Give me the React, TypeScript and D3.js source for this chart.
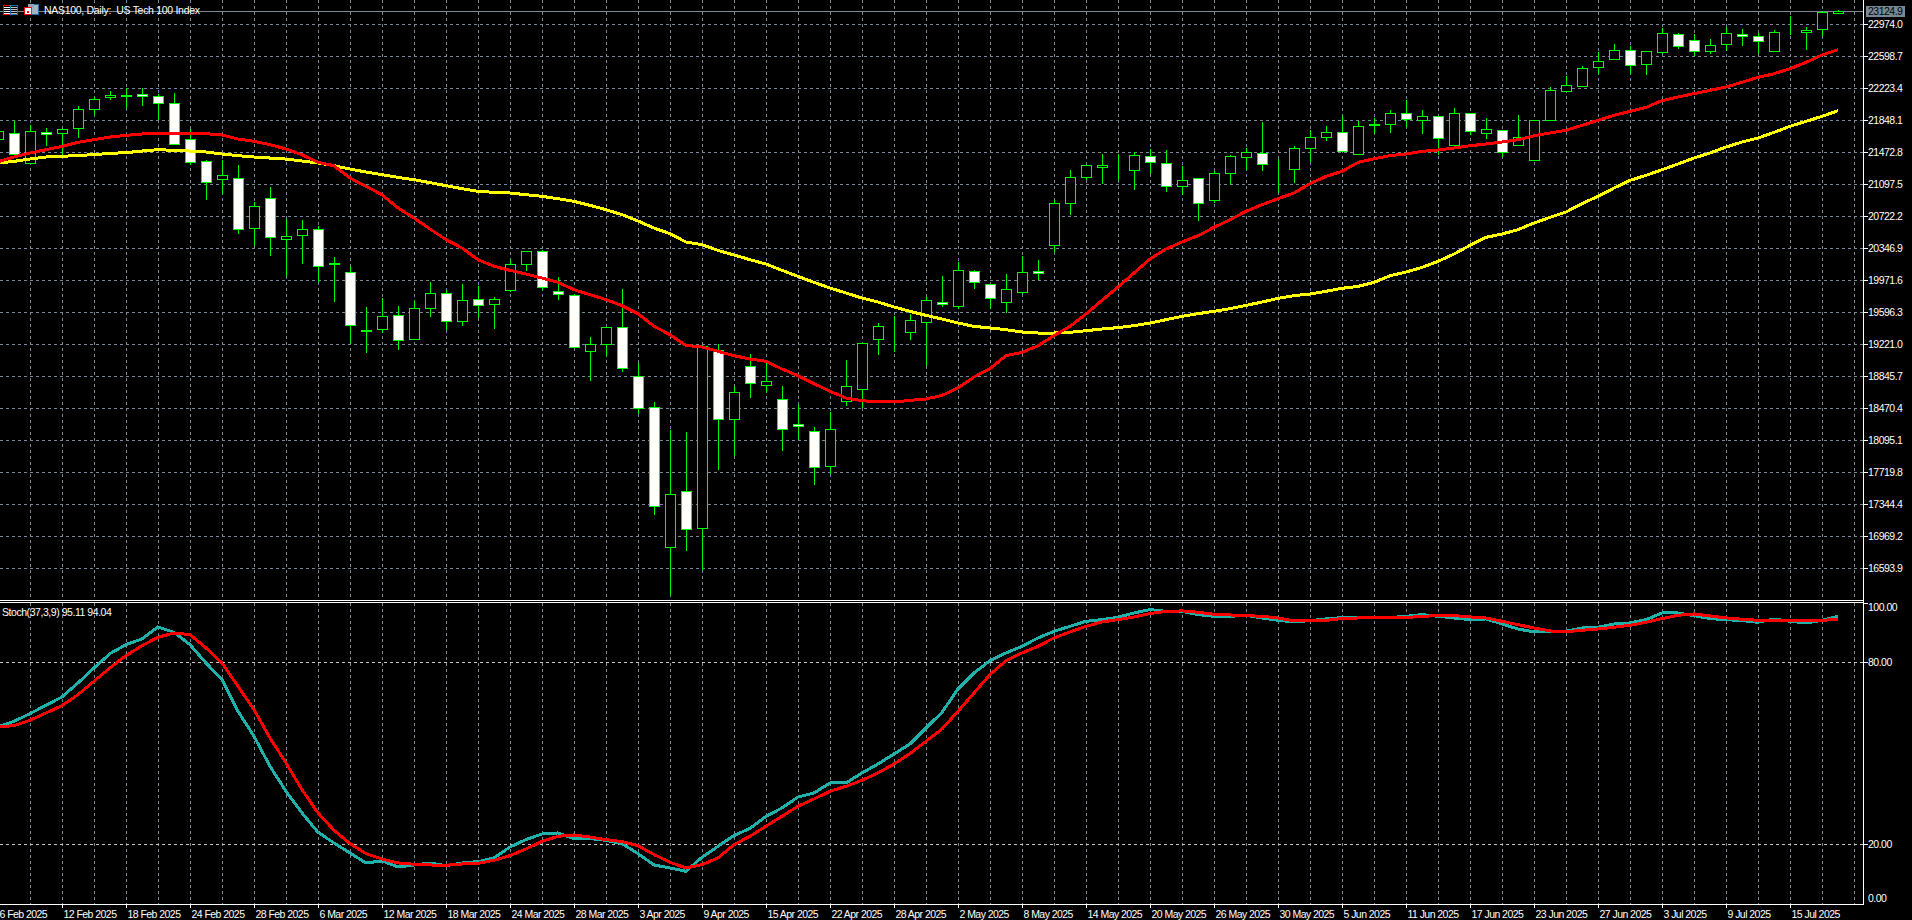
import React, { useEffect, useRef } from "react";
import * as d3 from "d3";

// daily bars
const opens = [21625,21695,21344,21707,21691,21750,21973,22114,22133,22153,22129,22047,21625,21367,21152,21168,20577,20933,20452,20495,20570,20160,20065,19379,19393,19561,19276,19639,19819,19487,19749,19686,19850,20155,20312,19843,19800,19135,19221,19420,18842,18482,16836,17497,17059,19155,18341,18959,18740,18576,18283,18201,17790,18553,18693,19280,19371,19362,19479,19713,19667,20077,19925,19710,19827,20077,20378,20874,21175,21293,21306,21258,21426,21344,21070,21168,20906,21226,21410,21461,21319,21269,21516,21645,21707,21445,21795,21797,21930,21844,21895,21551,21930,21691,21731,21551,21375,21852,22184,22243,22465,22559,22669,22501,22641,22856,22786,22653,22735,22856,22833,22653,22858,22880,22911,23099];
const highs = [21754,21840,21793,21758,21742,22016,22114,22192,22223,22223,22153,22164,21742,21383,21375,21324,20886,21066,20691,20679,20601,20245,20132,19659,19760,19671,19721,19948,19850,19929,19897,19772,20202,20312,20319,20007,19806,19303,19420,19870,18998,18545,18209,18193,19209,19221,18725,19108,18998,18725,18510,18248,18420,19037,19233,19467,19545,19573,19768,20022,20183,20093,19925,20046,20257,20210,20914,21265,21320,21453,21453,21473,21512,21500,21305,21168,21246,21441,21519,21828,21390,21547,21727,21774,21899,21840,21871,21969,22082,21969,21895,21992,21930,21871,21735,21910,21848,22231,22360,22485,22641,22743,22712,22657,22931,22868,22856,22802,22938,22919,22868,22907,23071,22938,23130,23142];
const lows = [21598,21414,21344,21547,21422,21641,21910,22086,21985,22016,21844,21562,21324,20914,20984,20515,20366,20257,20014,20163,19948,19717,19229,19111,19350,19147,19276,19534,19381,19436,19522,19393,19835,20081,19850,19741,19180,18783,19076,18889,18404,17212,16281,16797,16567,17747,17904,18584,18646,17962,18111,17564,17696,18490,18470,19088,19123,19264,18967,19651,19635,19862,19635,19585,19803,19968,20296,20730,21148,21101,21148,21031,21211,21000,20972,20659,20874,21082,21265,21246,20992,21113,21351,21598,21476,21445,21688,21699,21762,21688,21433,21531,21676,21629,21418,21547,21375,21848,22180,22235,22391,22555,22391,22379,22626,22684,22602,22626,22661,22720,22622,22641,22849,22673,22837,23087];
const closes = [21719,21445,21719,21680,21742,21977,22094,22141,22137,22125,22043,21562,21351,21117,21203,20566,20839,20472,20488,20570,20132,20166,19444,19383,19549,19264,19643,19819,19487,19737,19678,19749,20159,20312,19889,19803,19186,19221,19420,18936,18467,17317,17462,17047,19194,18341,18658,18764,18787,18224,18259,17775,18224,18728,19233,19432,19375,19502,19737,19690,20089,19948,19760,19866,20065,20054,20874,21179,21320,21320,21310,21437,21355,21070,21144,20874,21226,21426,21473,21332,21323,21519,21648,21707,21480,21777,21799,21930,21856,21895,21633,21930,21715,21742,21469,21648,21848,22200,22254,22458,22540,22669,22489,22657,22868,22712,22657,22727,22868,22829,22774,22880,22862,22903,23118,23124.9];

const maFast = [21359,21414,21461,21500,21539,21586,21617,21648,21668,21684,21695,21691,21695,21688,21672,21625,21598,21559,21508,21441,21351,21312,21168,21070,20972,20816,20699,20570,20445,20347,20210,20132,20085,20042,19995,19944,19858,19800,19741,19671,19577,19428,19330,19205,19186,19135,19084,19045,19018,18928,18850,18756,18666,18588,18556,18541,18541,18560,18576,18619,18705,18834,18932,19084,19123,19201,19319,19428,19573,19733,19889,20054,20218,20335,20417,20491,20589,20679,20777,20855,20925,20992,21101,21187,21246,21351,21394,21430,21449,21480,21496,21519,21547,21566,21590,21617,21664,21695,21727,21785,21844,21903,21949,21996,22075,22118,22157,22196,22235,22290,22348,22391,22450,22524,22610,22673];
const maSlow = [21344,21363,21390,21414,21422,21433,21441,21457,21465,21484,21500,21492,21484,21473,21449,21430,21414,21402,21390,21367,21344,21312,21273,21238,21207,21175,21148,21113,21078,21043,21011,21000,20992,20972,20953,20925,20894,20847,20796,20738,20663,20581,20515,20417,20386,20319,20265,20210,20159,20085,20014,19944,19878,19819,19760,19713,19655,19604,19557,19514,19467,19428,19409,19389,19362,19350,19350,19358,19377,19397,19413,19436,19467,19506,19545,19577,19604,19635,19674,19713,19757,19788,19807,19839,19874,19897,19944,20022,20065,20120,20190,20276,20378,20472,20511,20562,20640,20706,20769,20867,20953,21050,21140,21199,21265,21332,21402,21461,21531,21590,21637,21703,21774,21832,21891,21957];

const stochMain = [58.59,60.45,62.98,65.73,68.48,73.09,78.04,82.76,85.73,87.6,91.55,89.79,85.73,79.68,74.19,63.75,55.51,45.62,37.38,30.23,23.86,20.34,17.05,13.75,14.41,12.43,13.09,13.75,12.87,13.75,14.19,15.4,19.03,21.44,23.31,23.64,21.77,21.77,21.22,20.12,16.83,13.09,12.1,11.0,15.62,19.24,22.76,25.18,29.13,31.88,35.51,36.83,40.12,40.12,43.42,46.39,49.69,52.98,58.26,63.42,71.11,76.39,80.45,82.98,85.18,87.93,90.12,91.77,93.42,93.97,94.74,96.17,97.27,96.72,96.72,95.62,95.07,95.07,95.4,94.52,93.75,93.2,93.64,94.19,94.63,94.52,94.52,94.63,95.07,95.62,95.07,94.52,93.97,94.19,92.54,90.89,89.9,89.9,90.12,91.22,91.44,92.54,92.87,93.97,96.17,96.17,95.29,94.3,93.97,93.64,93.09,94.19,93.42,92.87,93.75,95.11];
const stochSignal = [58.59,59.03,60.78,63.2,65.62,69.24,73.64,78.04,82.1,85.4,88.15,89.57,89.02,84.63,79.68,71.99,64.3,54.96,46.72,37.93,30.23,24.52,20.12,16.83,15.07,13.75,13.31,13.09,12.98,13.42,13.64,14.63,16.17,18.37,20.89,22.54,22.98,22.32,21.44,20.78,19.46,16.5,13.97,12.1,13.2,15.4,19.79,22.54,25.84,29.13,32.43,34.85,37.38,39.02,41.0,43.42,46.39,49.79,53.86,57.93,63.75,69.79,75.84,80.45,82.98,85.18,87.93,89.9,91.77,93.2,93.97,94.85,95.95,96.72,96.83,96.39,95.73,95.51,95.29,95.07,94.52,93.53,93.53,93.75,94.3,94.52,94.52,94.52,94.63,95.07,95.29,95.29,94.85,94.52,93.42,92.32,91.22,90.23,90.01,90.45,90.89,91.44,92.1,93.09,94.3,95.4,95.84,95.18,94.52,94.08,93.75,93.75,93.53,93.53,93.75,94.04];

const priceTicks = [22974.0,22598.7,22223.4,21848.1,21472.8,21097.5,20722.2,20346.9,19971.6,19596.3,19221.0,18845.7,18470.4,18095.1,17719.8,17344.4,16969.2,16593.9];
const stochTicks = [100,80,20,0];
const dateLabels = ["6 Feb 2025","12 Feb 2025","18 Feb 2025","24 Feb 2025","28 Feb 2025","6 Mar 2025","12 Mar 2025","18 Mar 2025","24 Mar 2025","28 Mar 2025","3 Apr 2025","9 Apr 2025","15 Apr 2025","22 Apr 2025","28 Apr 2025","2 May 2025","8 May 2025","14 May 2025","20 May 2025","26 May 2025","30 May 2025","5 Jun 2025","11 Jun 2025","17 Jun 2025","23 Jun 2025","27 Jun 2025","3 Jul 2025","9 Jul 2025","15 Jul 2025"];
const lastPrice = 23124.9;
const chartTitle = "NAS100, Daily:  US Tech 100 Index";
const stochTitle = "Stoch(37,3,9) 95.11 94.04";

const W = 1912;
const H = 920;
const axisX = 1863;
const sepY = 600;
const bottomY = 904;
const FONT = '"Liberation Sans", sans-serif';
const GRID = "#778899";
const SIZE = 10.5;

export default function App() {
    const ref = useRef<SVGSVGElement>(null);

    useEffect(() => {
        const svg = d3.select(ref.current);
        svg.selectAll("*").remove();

        const x = d3.scaleLinear().domain([0, 116]).range([-2, 1854]);
        const y = d3.scaleLinear().domain([22974.0, 16593.9]).range([24, 568]);
        const ys = d3.scaleLinear().domain([80, 20]).range([662, 844]);
        const px = (v: number) => Math.round(v) + 0.5;

        const grid = svg.append("g").attr("shape-rendering", "crispEdges");
        // every second bar gets a vertical grid line
        d3.range(2, 117, 2).forEach((i) => {
            grid.append("line").attr("x1", px(x(i))).attr("x2", px(x(i))).attr("y1", 0).attr("y2", sepY)
                .attr("stroke", GRID).attr("stroke-dasharray", "3,3");
            grid.append("line").attr("x1", px(x(i))).attr("x2", px(x(i))).attr("y1", sepY + 3).attr("y2", bottomY)
                .attr("stroke", GRID).attr("stroke-dasharray", "3,3");
        });
        priceTicks.forEach((t) => {
            grid.append("line").attr("x1", 0).attr("x2", axisX).attr("y1", px(y(t))).attr("y2", px(y(t)))
                .attr("stroke", GRID).attr("stroke-dasharray", "3,3");
        });
        [80, 20].forEach((t) => {
            grid.append("line").attr("x1", 0).attr("x2", axisX).attr("y1", px(ys(t))).attr("y2", px(ys(t)))
                .attr("stroke", "#c8c8c8").attr("stroke-dasharray", "3,3");
        });

        // last price line
        grid.append("line").attr("x1", 0).attr("x2", axisX).attr("y1", px(y(lastPrice))).attr("y2", px(y(lastPrice)))
            .attr("stroke", GRID);

        // candles
        const candles = svg.append("g").attr("shape-rendering", "crispEdges");
        opens.forEach((o, i) => {
            const c = closes[i];
            const cx = px(x(i));
            candles.append("line").attr("x1", cx).attr("x2", cx)
                .attr("y1", y(highs[i])).attr("y2", y(lows[i]))
                .attr("stroke", "#00ff00");
            const top = px(y(Math.max(o, c)));
            const bot = px(y(Math.min(o, c)));
            candles.append("rect")
                .attr("x", cx - 5).attr("width", 10)
                .attr("y", top).attr("height", bot - top)
                .attr("fill", c >= o ? "#000" : "#fff")
                .attr("stroke", "#00ff00");
        });

        const priceLine = d3.line<number>().x((_, i) => x(i)).y((d) => y(d));
        const stochLine = d3.line<number>().x((_, i) => x(i)).y((d) => ys(d));

        svg.append("path").datum(maSlow).attr("d", priceLine).attr("fill", "none")
            .attr("stroke", "#ffff00").attr("stroke-width", 3).attr("shape-rendering", "crispEdges");
        svg.append("path").datum(maFast).attr("d", priceLine).attr("fill", "none")
            .attr("stroke", "#ff0000").attr("stroke-width", 3).attr("shape-rendering", "crispEdges");
        svg.append("path").datum(stochMain).attr("d", stochLine).attr("fill", "none")
            .attr("stroke", "#20b2aa").attr("stroke-width", 3).attr("shape-rendering", "crispEdges");
        svg.append("path").datum(stochSignal).attr("d", stochLine).attr("fill", "none")
            .attr("stroke", "#ff0000").attr("stroke-width", 3).attr("shape-rendering", "crispEdges");

        // frame
        const frame = svg.append("g").attr("stroke", "#fff").attr("shape-rendering", "crispEdges");
        frame.append("line").attr("x1", 0).attr("x2", axisX).attr("y1", sepY + 0.5).attr("y2", sepY + 0.5);
        frame.append("line").attr("x1", 0).attr("x2", axisX).attr("y1", sepY + 2.5).attr("y2", sepY + 2.5);
        frame.append("line").attr("x1", axisX + 0.5).attr("x2", axisX + 0.5).attr("y1", 0).attr("y2", bottomY + 1);
        frame.append("line").attr("x1", 0).attr("x2", axisX).attr("y1", bottomY + 0.5).attr("y2", bottomY + 0.5);

        // price axis
        const priceAxis = svg.append("g")
            .attr("transform", `translate(${axisX},0)`)
            .call(d3.axisRight(y).tickValues(priceTicks).tickSize(5).tickPadding(0).tickFormat((d) => d3.format(".1f")(d as number)));
        // stochastic axis, the end labels are pushed inside the panel
        const stochAxis = svg.append("g")
            .attr("transform", `translate(${axisX},0)`)
            .call(d3.axisRight(ys).tickValues(stochTicks).tickSize(5).tickPadding(0).tickFormat((d) => d3.format(".2f")(d as number)));
        stochAxis.selectAll<SVGGElement, number>(".tick").filter((d) => d === 100).select("text").attr("y", 5.5);
        stochAxis.selectAll<SVGGElement, number>(".tick").filter((d) => d === 100).select("line").attr("y1", 2).attr("y2", 2);
        stochAxis.selectAll<SVGGElement, number>(".tick").filter((d) => d === 0).select("text").attr("y", -6.5);
        stochAxis.selectAll<SVGGElement, number>(".tick").filter((d) => d === 0).select("line").remove();

        // date axis: one label every fourth bar
        const dateScale = d3.scalePoint<string>()
            .domain(dateLabels)
            .range([x(0), x((dateLabels.length - 1) * 4)]);
        const dateAxis = svg.append("g")
            .attr("transform", `translate(0,${bottomY})`)
            .call(d3.axisBottom(dateScale).tickSize(4).tickPadding(3));
        dateAxis.selectAll("text").attr("text-anchor", "start").attr("x", 1).style("letter-spacing", "-0.55px");

        [priceAxis, stochAxis, dateAxis].forEach((a) => {
            a.select(".domain").remove();
            a.selectAll("line").attr("stroke", "#fff").attr("shape-rendering", "crispEdges");
            a.selectAll("text").attr("fill", "#fff").attr("font-family", FONT).attr("font-size", SIZE);
        });
        priceAxis.selectAll("text").style("letter-spacing", "-0.5px");
        stochAxis.selectAll("text").style("letter-spacing", "-0.5px");

        // last price tag
        const tagY = y(lastPrice);
        svg.append("rect").attr("x", 1866).attr("y", tagY - 5).attr("width", 39).attr("height", 11)
            .attr("fill", GRID).attr("shape-rendering", "crispEdges");
        svg.append("text").attr("x", 1868).attr("y", tagY + 0.5).attr("dy", "0.35em")
            .attr("font-family", FONT).attr("font-size", SIZE).attr("fill", "#000")
            .style("letter-spacing", "-0.5px").text(d3.format(".1f")(lastPrice));

        // titles
        svg.append("text").attr("x", 44).attr("y", 10).attr("dy", "0.35em")
            .attr("font-family", FONT).attr("font-size", SIZE).attr("fill", "#fff")
            .style("white-space", "pre").style("letter-spacing", "-0.3px").text(chartTitle);
        svg.append("text").attr("x", 2).attr("y", 612).attr("dy", "0.35em")
            .attr("font-family", FONT).attr("font-size", SIZE).attr("fill", "#fff")
            .style("letter-spacing", "-0.45px").text(stochTitle);

        // the two little status icons next to the title
        const icons = svg.append("g").attr("shape-rendering", "crispEdges");
        icons.append("rect").attr("x", 3.5).attr("y", 5.5).attr("width", 7).attr("height", 9).attr("fill", "#000").attr("stroke", "#ff0000");
        icons.append("rect").attr("x", 10.5).attr("y", 5.5).attr("width", 7).attr("height", 9).attr("fill", "#000").attr("stroke", "#1e6fb0");
        [7, 9, 11, 13].forEach((ly) => {
            icons.append("line").attr("x1", 4).attr("x2", 10).attr("y1", ly + 0.5).attr("y2", ly + 0.5).attr("stroke", "#fff");
            icons.append("line").attr("x1", 11).attr("x2", 17).attr("y1", ly + 0.5).attr("y2", ly + 0.5).attr("stroke", "#c0c0c0");
        });
        icons.append("rect").attr("x", 24.5).attr("y", 7.5).attr("width", 7).attr("height", 7).attr("fill", "#fff").attr("stroke", "#ff0000");
        icons.append("rect").attr("x", 31.5).attr("y", 4.5).attr("width", 7).attr("height", 10).attr("fill", "#9fb4c7").attr("stroke", "#1e6fb0");
        icons.append("rect").attr("x", 28).attr("y", 4).attr("width", 6).attr("height", 3).attr("fill", "#9aa0a6");
        icons.append("rect").attr("x", 26.5).attr("y", 10.5).attr("width", 2).attr("height", 2).attr("fill", "#ff0000");
    }, []);

    return (
        <svg
            ref={ref}
            width={W}
            height={H}
            style={{ position: "fixed", left: 0, top: 0, background: "#000", display: "block" }}
        >
        </svg>
    );
}
